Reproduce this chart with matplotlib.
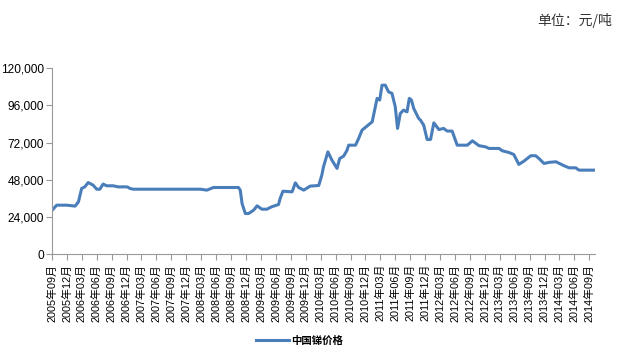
import numpy as np
import pandas as pd
import matplotlib
matplotlib.use("Agg")
import matplotlib.pyplot as plt
import matplotlib.dates as mdates
from matplotlib.ticker import FuncFormatter

plt.rcParams['font.family'] = ['Liberation Sans', 'Noto Sans CJK SC', 'DejaVu Sans']

# price points (yuan / ton)
dates = ["2005-09-02", "2005-09-29", "2005-11-30", "2006-01-20", "2006-02-09",
         "2006-03-01", "2006-03-20", "2006-04-10", "2006-05-10", "2006-06-01",
         "2006-06-20", "2006-07-10", "2006-08-01", "2006-09-10", "2006-10-10",
         "2006-12-05", "2006-12-21", "2007-01-10", "2008-02-24", "2008-04-05",
         "2008-05-15", "2008-10-15", "2008-10-26", "2008-11-06", "2008-11-26",
         "2008-12-16", "2009-01-16", "2009-02-06", "2009-03-07", "2009-04-07",
         "2009-05-07", "2009-06-17", "2009-06-27", "2009-07-14", "2009-09-08",
         "2009-09-28", "2009-10-18", "2009-11-18", "2009-12-28", "2010-02-18",
         "2010-03-09", "2010-03-19", "2010-04-15", "2010-05-10", "2010-06-10",
         "2010-06-26", "2010-07-20", "2010-08-10", "2010-08-20", "2010-10-01",
         "2010-10-20", "2010-11-10", "2011-01-11", "2011-02-10", "2011-02-26",
         "2011-03-12", "2011-04-01", "2011-04-21", "2011-05-12", "2011-06-01",
         "2011-06-15", "2011-07-02", "2011-07-22", "2011-08-12", "2011-08-26",
         "2011-09-08", "2011-09-22", "2011-10-22", "2011-11-02", "2011-11-22",
         "2011-12-13", "2012-01-03", "2012-01-23", "2012-02-23", "2012-03-23",
         "2012-04-14", "2012-05-14", "2012-06-14", "2012-08-15", "2012-09-15",
         "2012-10-25", "2012-12-05", "2012-12-25", "2013-02-25", "2013-03-16",
         "2013-04-26", "2013-05-26", "2013-06-26", "2013-07-27", "2013-09-07",
         "2013-10-07", "2013-10-27", "2013-11-27", "2013-12-28", "2014-02-08",
         "2014-03-30", "2014-04-29", "2014-06-09", "2014-06-29", "2014-10-05"]
prices = [28400, 31600, 31600, 31000, 33700,
          42400, 43400, 46200, 44500, 41900,
          41900, 45200, 44100, 44100, 43400,
          43400, 42400, 41900, 41900, 41300,
          43000, 43000, 41300, 32700, 26200,
          26200, 28400, 31200, 29000, 29000,
          30600, 32000, 35900, 40600, 40200,
          46000, 43000, 41300, 43900, 44300,
          51000, 56300, 66000, 60600, 55300,
          61700, 63200, 67000, 70300, 70300,
          74600, 80000, 85400, 100500, 99400,
          109000, 109000, 104700, 103700, 95100,
          81100, 90800, 92900, 91800, 100500,
          99400, 94000, 87600, 86500, 83200,
          74000, 74000, 84700, 80400, 81100,
          79400, 79400, 70300, 70300, 73100,
          70000, 69200, 68200, 68200, 66700,
          65600, 64300, 57900, 60000, 63500,
          63500, 61700, 58500, 59200, 59600,
          57000, 55700, 55700, 54200, 54200]
tick_dates = pd.date_range("2005-09-01", "2014-09-01", freq="3MS")
tick_labels = [d.strftime("%Y年%m月") for d in tick_dates]
y_ticks = [0, 24000, 48000, 72000, 96000, 120000]

x = pd.to_datetime(dates)

fig = plt.figure(figsize=(6.2, 3.53), dpi=100)
ax = fig.add_axes([0.084, 0.28, 0.876, 0.527])
line, = ax.plot(x, prices, color='#4a7ebb', lw=2.2, label='中国锑价格')

ax.set_xlim(pd.Timestamp("2005-09-01"), pd.Timestamp("2014-10-06"))
ax.set_ylim(0, 120000)
ax.set_yticks(y_ticks)
ax.yaxis.set_major_formatter(FuncFormatter(lambda v, p: f"{int(v):,}"))
ax.set_xticks(tick_dates)
ax.set_xticklabels(tick_labels, rotation=90, fontsize=7.8)
ax.tick_params(axis='y', labelsize=8.6, length=4, color='#999999', pad=2)
ax.tick_params(axis='x', length=4, color='#999999', pad=3)

for s in ['top', 'right']:
    ax.spines[s].set_visible(False)
for s in ['left', 'bottom']:
    ax.spines[s].set_color('#999999')

fig.legend(handles=[line], loc='center', bbox_to_anchor=(0.483, 0.034),
           frameon=False, handlelength=3.2, handletextpad=0.2,
           prop={'family': 'Noto Sans CJK SC', 'size': 7.5, 'weight': 'bold'})
fig.text(0.987, 0.943, '单位：元/吨', ha='right', va='center',
         fontsize=10, family='Noto Sans CJK SC', color='#333333')

fig.savefig("out.png", dpi=100)
